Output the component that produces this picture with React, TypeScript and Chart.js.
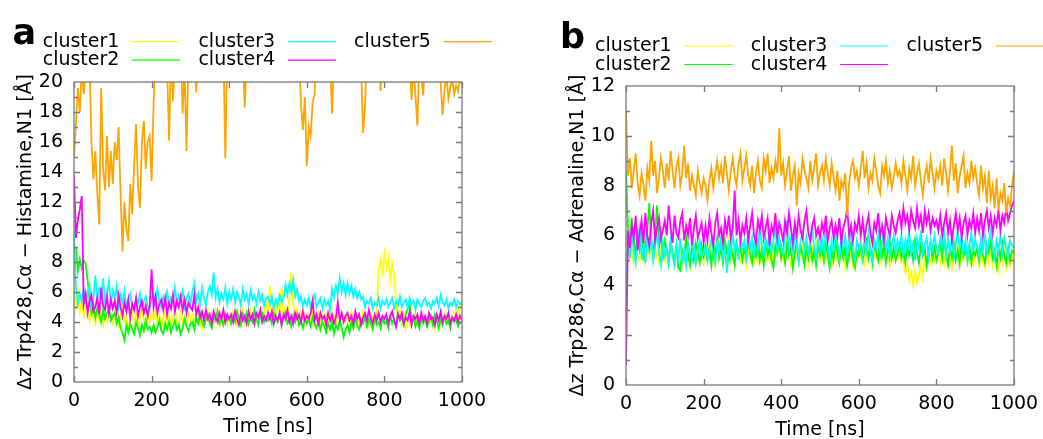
import React, { useEffect, useRef } from "react";
import { Chart, registerables } from "chart.js";
Chart.register(...registerables);

// ---------- data ----------
const TIME = [0,
  5, 10, 15, 20, 25, 30, 35, 40, 45, 50, 55, 60, 65, 70, 75, 80, 85, 90, 95, 100,
  105, 110, 115, 120, 125, 130, 135, 140, 145, 150, 155, 160, 165, 170, 175, 180, 185, 190, 195, 200,
  205, 210, 215, 220, 225, 230, 235, 240, 245, 250, 255, 260, 265, 270, 275, 280, 285, 290, 295, 300,
  305, 310, 315, 320, 325, 330, 335, 340, 345, 350, 355, 360, 365, 370, 375, 380, 385, 390, 395, 400,
  405, 410, 415, 420, 425, 430, 435, 440, 445, 450, 455, 460, 465, 470, 475, 480, 485, 490, 495, 500,
  505, 510, 515, 520, 525, 530, 535, 540, 545, 550, 555, 560, 565, 570, 575, 580, 585, 590, 595, 600,
  605, 610, 615, 620, 625, 630, 635, 640, 645, 650, 655, 660, 665, 670, 675, 680, 685, 690, 695, 700,
  705, 710, 715, 720, 725, 730, 735, 740, 745, 750, 755, 760, 765, 770, 775, 780, 785, 790, 795, 800,
  805, 810, 815, 820, 825, 830, 835, 840, 845, 850, 855, 860, 865, 870, 875, 880, 885, 890, 895, 900,
  905, 910, 915, 920, 925, 930, 935, 940, 945, 950, 955, 960, 965, 970, 975, 980, 985, 990, 995, 1000];

const SERIES_NAMES = ["cluster1", "cluster2", "cluster3", "cluster4", "cluster5"];
const SERIES_COLORS = ["#ffff00", "#00ff00", "#00ffff", "#ff00ff", "#ffa500"];
const X_TICKS = [0, 200, 400, 600, 800, 1000];
const Y_TICKS_A = [0, 2, 4, 6, 8, 10, 12, 14, 16, 18, 20];
const Y_TICKS_B = [0, 2, 4, 6, 8, 10, 12];
const Y_TITLE_A = "\u0394z Trp428,C\u03b1 \u2212 Histamine,N1 [\u00c5]";
const Y_TITLE_B = "\u0394z Trp286,C\u03b1 \u2212 Adrenaline,N1 [\u00c5]";

// ---------- panel a ----------
const A_C1 = [6.2,
  5.0, 6.0, 4.7, 5.5, 4.4, 5.2, 4.8, 4.1, 5.0, 4.4, 3.9, 4.7, 4.2, 4.9, 3.8, 4.5, 4.1, 4.8, 4.3, 3.9,
  4.6, 4.1, 3.7, 4.5, 4.9, 4.0, 4.4, 3.6, 4.2, 4.7, 4.0, 4.5, 3.8, 4.3, 4.9, 4.1, 3.7, 4.4, 4.0, 4.6,
  4.2, 4.8, 3.9, 4.4, 3.6, 4.3, 4.7, 4.0, 4.5, 3.8, 4.2, 4.9, 4.1, 3.7, 4.6, 4.0, 4.4, 3.8, 4.5, 4.1,
  4.5, 3.9, 4.3, 4.8, 4.0, 3.6, 4.5, 4.2, 4.7, 3.9, 4.4, 4.0, 4.8, 4.2, 3.7, 4.5, 4.1, 4.6, 3.9, 4.3,
  4.0, 4.6, 4.2, 3.8, 4.5, 4.1, 4.8, 3.9, 4.4, 4.0, 4.7, 4.2, 3.8, 4.5, 4.3, 4.9, 4.1, 4.6, 5.2, 4.6,
  6.4, 4.5, 5.0, 4.3, 5.4, 4.7, 6.3, 4.4, 5.0, 4.2, 5.6, 7.3, 5.1, 4.4, 4.8, 4.0, 4.6, 4.2, 4.5, 3.9,
  4.5, 4.1, 4.7, 3.8, 4.3, 4.6, 4.0, 4.4, 3.7, 4.5, 4.2, 4.8, 4.0, 4.4, 3.9, 4.6, 4.2, 4.0, 4.5, 4.2,
  4.4, 3.9, 4.6, 4.1, 4.3, 3.7, 4.5, 4.0, 4.7, 4.1, 4.4, 3.8, 4.6, 4.2, 4.0, 4.5, 7.4, 8.2, 7.0, 8.6,
  7.6, 8.3, 6.8, 7.9, 7.2, 5.2, 4.3, 4.7, 3.9, 4.5, 3.6, 4.4, 4.0, 3.7, 4.3, 4.6, 3.8, 4.2, 4.0, 4.5,
  4.1, 3.7, 4.5, 4.0, 4.3, 3.6, 4.4, 4.1, 4.7, 3.9, 4.2, 4.5, 4.0, 3.8, 4.4, 4.2, 4.8, 4.3, 5.1, 5.5];
const A_C2 = [9.0,
  8.9, 7.4, 8.2, 7.6, 8.1, 7.9, 6.8, 5.4, 4.6, 5.2, 4.3, 4.9, 4.5, 4.0, 4.8, 4.2, 4.6, 4.9, 4.1, 4.4,
  4.6, 3.9, 4.3, 3.6, 3.3, 2.8, 3.8, 3.3, 3.9, 3.5, 3.2, 4.0, 3.6, 3.1, 3.8, 3.4, 4.1, 3.5, 3.7, 3.3,
  3.8, 3.3, 3.6, 4.1, 3.4, 3.2, 3.9, 3.5, 4.0, 3.3, 3.7, 4.1, 3.5, 3.8, 3.2, 3.6, 4.2, 3.7, 3.4, 3.9,
  4.0, 3.5, 4.3, 3.9, 4.6, 4.0, 3.7, 4.2, 4.5, 3.9, 3.6, 4.4, 4.1, 4.7, 3.9, 4.2, 3.8, 4.5, 4.1, 4.3,
  3.9, 4.4, 4.0, 4.7, 4.2, 3.8, 4.5, 4.1, 4.6, 3.9, 4.3, 4.0, 4.8, 4.2, 3.8, 4.4, 4.6, 4.0, 4.3, 4.1,
  4.4, 3.9, 4.6, 4.2, 4.0, 4.5, 3.8, 4.3, 4.6, 3.9, 4.2, 3.7, 4.4, 4.0, 4.5, 3.8, 4.1, 3.6, 4.2, 3.9,
  4.2, 3.7, 4.3, 3.9, 3.6, 4.1, 3.5, 4.0, 3.7, 3.3, 3.9, 3.5, 4.0, 3.2, 3.8, 3.5, 4.1, 3.6, 3.0, 3.5,
  3.8, 3.3, 4.0, 3.6, 4.3, 3.8, 3.5, 4.1, 3.9, 4.4, 3.7, 4.2, 3.9, 3.5, 4.3, 3.8, 4.0, 3.6, 4.2, 3.9,
  4.1, 3.6, 4.4, 3.9, 4.2, 3.7, 4.6, 4.1, 4.3, 3.8, 4.5, 4.9, 5.2, 4.2, 4.4, 3.7, 4.1, 3.6, 4.3, 3.9,
  4.2, 3.7, 4.0, 4.4, 3.8, 4.5, 4.1, 3.6, 4.2, 3.8, 4.4, 3.9, 4.1, 3.6, 4.3, 4.0, 4.2, 3.7, 4.0, 3.9];
const A_C3 = [9.9,
  6.3, 5.2, 5.9, 5.4, 6.2, 5.3, 5.9, 6.4, 5.0, 5.6, 7.1, 5.5, 6.2, 5.8, 6.9, 5.3, 5.9, 6.7, 5.2, 6.1,
  5.6, 6.4, 5.0, 5.8, 5.3, 6.1, 4.9, 5.5, 5.9, 5.1, 4.8, 5.6, 5.2, 5.9, 4.9, 5.4, 5.7, 5.1, 4.9, 5.5,
  5.9, 5.1, 6.2, 5.4, 5.0, 5.7, 5.3, 6.0, 5.1, 5.6, 5.3, 6.3, 5.2, 5.8, 5.5, 6.1, 5.0, 5.6, 5.9, 5.2,
  6.0, 6.6, 5.4, 5.9, 5.2, 6.3, 5.6, 5.1, 6.0, 6.4, 5.8, 7.3, 5.6, 6.2, 5.3, 5.9, 5.5, 6.3, 5.2, 6.0,
  5.5, 6.2, 5.3, 6.0, 5.7, 5.1, 6.2, 5.5, 5.9, 5.2, 6.1, 5.5, 5.8, 5.2, 6.0, 5.4, 5.8, 5.1, 5.6, 5.7,
  5.2, 5.7, 4.9, 5.5, 5.1, 5.8, 5.3, 5.6, 6.5, 5.8, 6.6, 6.0, 6.8, 5.7, 6.2, 5.4, 5.7, 5.0, 5.5, 5.1,
  5.6, 5.0, 5.5, 5.8, 5.0, 5.3, 5.6, 4.9, 5.5, 5.1, 5.4, 4.8, 6.2, 5.6, 6.4, 5.9, 6.9, 6.0, 6.6, 5.8,
  6.6, 5.9, 6.4, 5.7, 6.2, 5.6, 6.0, 5.5, 5.7, 5.0, 5.4, 5.2, 5.6, 4.9, 5.3, 5.1, 5.6, 4.9, 5.4, 5.2,
  5.5, 5.0, 5.3, 5.6, 4.9, 5.4, 5.1, 5.7, 5.0, 5.3, 5.5, 4.9, 5.6, 5.2, 5.4, 4.8, 5.5, 5.2, 5.0, 5.4,
  5.6, 5.1, 5.3, 4.9, 5.4, 5.2, 5.6, 5.0, 5.8, 5.3, 5.1, 5.5, 4.9, 5.3, 5.1, 5.5, 5.0, 5.4, 5.2, 5.2];
const A_C4 = [13.8,
  9.6, 10.8, 11.5, 12.4, 5.2, 5.9, 4.6, 5.4, 5.8, 4.7, 5.0, 5.6, 4.5, 6.3, 5.1, 4.8, 5.7, 4.6, 5.5, 4.9,
  5.4, 4.6, 5.8, 5.0, 4.4, 5.3, 4.7, 5.5, 4.3, 5.2, 4.8, 5.6, 4.4, 5.0, 5.4, 4.6, 5.1, 4.4, 5.0, 7.5,
  5.0, 5.7, 4.6, 5.2, 5.5, 4.8, 5.6, 4.5, 5.3, 4.9, 5.8, 4.7, 5.4, 5.0, 5.7, 4.8, 5.5, 4.6, 5.3, 5.0,
  4.8, 5.8, 4.5, 5.0, 4.3, 4.7, 4.1, 4.8, 4.2, 4.5, 3.9, 4.7, 4.3, 4.0, 4.6, 4.2, 4.8, 4.0, 4.5, 4.2,
  4.5, 4.0, 4.7, 4.2, 3.8, 4.6, 4.1, 4.4, 3.9, 4.7, 4.2, 4.5, 3.9, 4.6, 4.3, 4.8, 4.0, 4.4, 4.1, 4.6,
  4.2, 4.7, 3.9, 4.4, 4.1, 4.6, 3.8, 4.5, 4.2, 4.8, 4.0, 4.4, 3.9, 4.6, 4.2, 4.5, 4.0, 4.7, 4.1, 4.4,
  4.2, 4.6, 5.4, 4.1, 4.5, 3.9, 4.6, 4.2, 4.4, 3.8, 4.6, 4.1, 4.5, 3.9, 4.3, 5.3, 4.1, 4.6, 4.0, 4.4,
  4.6, 4.1, 4.4, 3.9, 4.7, 4.2, 4.5, 3.8, 4.3, 4.6, 4.1, 4.8, 4.2, 3.9, 4.5, 4.1, 4.6, 4.0, 4.4, 4.2,
  4.5, 3.9, 4.4, 4.7, 4.1, 3.7, 4.5, 4.2, 4.6, 3.9, 4.3, 4.1, 4.7, 3.8, 4.4, 4.2, 4.5, 3.9, 4.6, 4.1,
  4.4, 3.9, 4.6, 4.2, 4.3, 3.8, 4.5, 4.1, 4.7, 4.0, 4.4, 4.2, 4.6, 3.9, 4.3, 4.1, 4.5, 4.0, 4.4, 4.1];
const A_C5 = [15.0,
  17.2, 19.6, 18.0, 21.0, 19.2, 20.5, 21.0, 21.5, 16.0, 13.5, 15.4, 12.6, 10.5, 19.6, 14.2, 12.8, 16.4, 13.0, 15.4, 13.2,
  16.0, 14.8, 17.0, 12.6, 8.7, 12.0, 10.2, 9.4, 13.2, 11.2, 14.5, 17.2, 13.0, 11.6, 16.0, 17.4, 14.2, 16.0, 16.4, 13.4,
  18.5, 21.5, 22.0, 21.0, 22.5, 21.8, 22.2, 21.0, 16.1, 22.0, 18.7, 21.5, 22.0, 21.3, 22.4, 17.9, 21.0, 15.4, 21.6, 22.0,
  21.5, 22.8, 19.3, 22.0, 21.2, 23.0, 22.0, 21.5, 22.5, 21.4, 22.6, 21.8, 22.3, 21.2, 22.0, 21.6, 22.4, 14.9, 21.8, 22.0,
  21.8, 23.0, 22.2, 21.4, 22.6, 21.5, 22.0, 18.3, 21.6, 22.4, 21.2, 22.8, 21.6, 22.3, 21.0, 22.5, 21.7, 22.2, 21.4, 22.0,
  21.5, 22.8, 21.6, 22.4, 21.0, 22.8, 21.4, 22.4, 21.2, 22.6, 21.5, 22.0, 21.3, 22.5, 21.0, 22.2, 18.5, 16.8, 19.0, 14.4,
  17.0, 16.4, 18.6, 19.2, 22.5, 21.4, 22.8, 21.5, 22.2, 21.0, 22.4, 21.2, 17.9, 21.6, 22.8, 21.2, 22.4, 21.6, 22.0, 21.2,
  22.5, 21.5, 22.8, 21.4, 22.0, 21.6, 22.4, 21.0, 16.6, 18.4, 22.0, 21.6, 22.5, 21.3, 22.2, 21.8, 22.6, 19.4, 21.2, 22.2,
  21.5, 22.6, 21.4, 22.8, 21.6, 22.4, 21.0, 22.2, 21.5, 22.6, 21.3, 22.0, 21.6, 18.8, 21.0, 19.1, 17.1, 21.5, 20.4, 19.1,
  21.8, 22.4, 21.2, 22.0, 21.5, 22.4, 21.2, 20.6, 19.9, 17.8, 19.5, 20.4, 18.9, 19.7, 20.2, 19.2, 19.8, 19.4, 20.3, 19.8];

// ---------- panel b ----------
const B_C1 = [5.6,
  5.8, 5.1, 5.5, 4.9, 5.7, 5.2, 5.0, 5.6, 5.3, 4.9, 5.8, 5.2, 5.5, 5.0, 5.6, 5.1, 4.9, 5.5, 5.3, 5.0,
  5.4, 4.9, 5.7, 5.2, 4.8, 5.5, 5.1, 5.6, 4.9, 5.3, 5.0, 5.5, 4.8, 5.4, 5.2, 4.9, 5.6, 5.1, 5.3, 4.9,
  5.5, 5.1, 5.7, 5.0, 5.3, 4.8, 5.6, 5.2, 5.4, 4.9, 5.5, 5.1, 5.8, 5.0, 5.4, 4.9, 5.6, 5.2, 5.0, 5.5,
  5.2, 4.8, 5.5, 5.1, 5.6, 4.9, 5.3, 5.0, 5.5, 4.8, 5.7, 5.2, 5.0, 5.4, 4.9, 5.6, 5.1, 5.3, 5.5, 5.0,
  5.3, 4.9, 5.6, 5.1, 4.8, 5.4, 5.0, 5.5, 4.9, 5.3, 5.6, 5.0, 5.4, 4.8, 5.2, 5.5, 5.1, 5.7, 5.2, 5.0,
  5.4, 4.9, 5.3, 5.0, 5.6, 4.8, 5.2, 5.5, 4.9, 5.3, 5.1, 5.6, 4.7, 5.2, 5.0, 5.5, 4.8, 5.3, 5.0, 5.4,
  5.1, 5.5, 4.9, 5.4, 5.0, 5.6, 4.8, 5.3, 5.1, 5.5, 4.9, 5.2, 5.6, 5.0, 5.4, 4.8, 5.3, 5.0, 5.5, 5.1,
  5.3, 4.9, 5.0, 4.5, 4.8, 4.2, 4.5, 4.0, 4.6, 4.1, 4.4, 4.8, 4.3, 5.0, 4.7, 5.3, 4.9, 5.4, 5.0, 5.3,
  5.5, 4.9, 5.2, 4.8, 5.5, 5.0, 5.4, 4.7, 5.3, 5.1, 5.6, 4.8, 5.2, 5.0, 5.5, 4.9, 5.3, 5.1, 4.8, 5.2,
  5.4, 4.8, 5.3, 5.0, 4.7, 5.3, 4.9, 5.5, 4.8, 5.2, 5.0, 4.6, 5.3, 4.9, 5.4, 4.7, 5.1, 4.8, 5.2, 4.8];
const B_C2 = [8.6,
  6.4, 5.6, 6.7, 5.8, 5.2, 6.1, 5.5, 6.3, 5.0, 5.7, 6.2, 7.3, 5.8, 5.3, 6.0, 7.2, 5.5, 6.1, 5.2, 5.8,
  5.4, 4.9, 5.8, 5.3, 5.0, 5.6, 4.7, 4.6, 5.4, 5.1, 5.9, 5.2, 4.8, 5.5, 5.0, 5.7, 5.3, 4.9, 5.6, 5.2,
  5.6, 5.0, 5.4, 4.8, 5.7, 5.2, 5.9, 5.1, 5.5, 4.9, 5.8, 5.3, 5.0, 5.6, 5.2, 4.8, 5.7, 5.3, 5.5, 5.0,
  5.5, 5.1, 5.8, 5.3, 4.9, 5.6, 5.2, 5.9, 5.0, 5.4, 4.8, 5.7, 5.2, 5.5, 5.0, 4.7, 5.6, 5.3, 5.8, 5.1,
  5.4, 4.9, 5.7, 5.2, 5.5, 4.7, 5.3, 5.8, 5.0, 5.6, 5.2, 4.8, 5.5, 5.1, 5.7, 5.0, 5.4, 4.8, 5.6, 5.2,
  5.5, 5.0, 5.7, 5.2, 4.7, 5.4, 5.0, 5.8, 5.3, 4.9, 5.6, 5.1, 5.5, 4.8, 5.3, 5.7, 5.0, 4.7, 5.4, 5.2,
  5.6, 5.0, 5.4, 5.8, 5.1, 5.5, 4.9, 5.7, 5.3, 5.0, 6.0, 5.2, 5.6, 4.9, 5.4, 5.8, 5.1, 5.5, 5.0, 5.3,
  5.6, 5.1, 5.4, 4.9, 5.7, 5.2, 5.5, 5.0, 5.8, 5.3, 4.9, 5.6, 5.2, 5.5, 4.8, 5.4, 5.7, 5.1, 5.5, 5.0,
  5.3, 5.7, 5.1, 5.9, 5.2, 4.8, 5.5, 5.1, 5.7, 5.0, 5.4, 4.9, 5.8, 5.2, 5.5, 5.0, 5.6, 4.9, 5.4, 5.2,
  5.5, 5.0, 5.7, 5.2, 4.9, 5.6, 5.3, 5.8, 5.1, 5.4, 4.8, 5.5, 5.1, 5.7, 5.2, 4.9, 5.5, 5.0, 5.4, 5.3];
const B_C3 = [3.0,
  5.9, 5.1, 6.1, 5.4, 4.9, 5.8, 6.3, 5.2, 5.6, 4.9, 5.9, 5.4, 6.0, 5.0, 5.5, 6.2, 5.3, 4.8, 5.7, 5.2,
  5.5, 4.9, 5.8, 5.2, 4.8, 5.6, 5.1, 5.9, 5.0, 5.4, 4.8, 5.7, 5.3, 5.0, 5.6, 4.9, 5.4, 5.8, 5.1, 5.3,
  5.6, 5.0, 5.4, 5.9, 5.2, 4.9, 5.7, 5.3, 6.0, 5.1, 5.5, 4.5, 5.8, 5.2, 6.1, 5.4, 5.7, 5.0, 5.9, 5.5,
  5.8, 5.2, 6.2, 5.5, 5.9, 5.1, 6.0, 5.4, 6.4, 5.6, 5.2, 5.9, 5.5, 6.1, 5.3, 5.8, 6.3, 5.4, 5.9, 5.6,
  5.3, 6.0, 6.6, 5.5, 5.9, 5.2, 6.2, 5.6, 5.0, 5.8, 6.1, 5.4, 5.9, 5.3, 5.7, 6.3, 5.5, 5.1, 5.8, 5.4,
  5.9, 5.3, 6.1, 5.6, 5.0, 5.8, 5.4, 6.2, 5.7, 5.1, 5.9, 5.5, 6.0, 5.2, 5.7, 6.3, 5.4, 5.0, 5.8, 5.5,
  5.7, 5.1, 5.9, 5.4, 6.1, 5.3, 5.0, 5.8, 5.5, 6.0, 5.2, 5.7, 6.2, 5.4, 5.9, 5.1, 5.6, 6.0, 5.3, 5.8,
  5.5, 6.0, 5.2, 5.8, 5.4, 6.1, 5.3, 5.7, 5.0, 5.9, 5.5, 6.2, 5.3, 5.6, 5.9, 5.1, 5.8, 5.4, 6.0, 5.5,
  5.3, 5.9, 5.6, 6.1, 5.2, 5.8, 5.4, 6.0, 5.1, 5.7, 6.2, 5.5, 5.9, 5.3, 5.8, 5.0, 5.6, 6.1, 5.4, 5.8,
  5.6, 5.2, 5.9, 5.4, 6.0, 5.3, 5.7, 6.2, 5.5, 5.1, 5.8, 5.4, 6.0, 5.3, 5.9, 5.5, 5.2, 5.8, 5.6, 5.5];
const B_C4 = [0.8,
  6.2, 5.5, 6.4, 5.9, 6.8, 5.4, 6.1, 6.6, 5.7, 6.9, 6.0, 5.6, 6.5, 7.0, 5.8, 6.3, 6.7, 5.9, 6.2, 6.6,
  6.0, 7.2, 6.3, 5.7, 6.8, 6.1, 5.9, 6.6, 6.9, 5.8, 6.4, 6.0, 6.7, 5.6, 6.3, 6.8, 5.9, 6.2, 6.5, 5.7,
  6.4, 5.8, 6.7, 6.1, 5.6, 6.5, 6.9, 6.0, 6.3, 5.7, 6.6, 6.1, 6.8, 5.9, 6.3, 7.8, 6.0, 6.6, 5.8, 6.4,
  6.1, 6.7, 5.8, 6.4, 6.9, 6.0, 5.7, 6.6, 6.2, 6.8, 5.9, 6.3, 6.7, 5.6, 6.4, 6.1, 6.9, 5.9, 6.5, 6.2,
  5.8, 6.6, 6.1, 6.9, 6.3, 5.7, 6.5, 6.0, 6.8, 6.2, 5.9, 6.6, 7.0, 6.1, 5.8, 6.4, 6.7, 6.0, 6.3, 5.9,
  6.5, 6.1, 6.8, 5.8, 6.3, 6.6, 5.9, 6.4, 6.0, 6.7, 5.7, 6.3, 6.6, 7.1, 6.0, 6.4, 5.8, 6.5, 6.2, 6.8,
  6.0, 6.6, 5.9, 6.4, 6.8, 6.1, 5.7, 6.5, 6.2, 6.9, 6.0, 6.4, 5.8, 6.7, 6.3, 6.0, 6.8, 6.4, 6.1, 6.6,
  6.9, 6.3, 7.1, 6.5, 6.8, 6.2, 7.0, 6.6, 6.3, 7.1, 6.4, 6.8, 6.1, 7.0, 6.5, 6.9, 6.2, 6.7, 6.4, 6.6,
  6.2, 6.8, 6.0, 6.5, 6.9, 6.1, 6.6, 5.8, 6.4, 6.9, 6.2, 6.7, 5.9, 6.5, 6.8, 6.0, 6.6, 6.3, 6.9, 6.1,
  6.7, 6.2, 6.9, 6.0, 6.6, 7.0, 6.3, 6.8, 6.1, 6.7, 6.4, 7.0, 6.2, 6.8, 6.5, 7.1, 6.6, 6.9, 7.2, 7.4];
const B_C5 = [11.0,
  8.4, 9.1, 7.9, 8.6, 9.3, 8.1, 7.6, 8.5, 8.0, 7.4, 8.7, 8.2, 9.8, 8.4, 9.0, 7.7, 8.3, 9.1, 8.6, 7.9,
  8.9, 8.2, 9.4, 8.6, 7.9, 8.8, 9.1, 8.0, 8.5, 9.6, 8.3, 8.9, 7.8, 8.4, 8.0, 7.6, 8.6, 8.1, 7.7, 8.3,
  8.0, 7.4, 8.2, 8.7, 7.9, 8.5, 9.0, 8.3, 8.8, 8.1, 9.2, 8.5, 7.8, 8.6, 9.1, 8.4, 8.0, 8.9, 9.3, 8.2,
  8.7, 9.2, 8.4, 8.0, 8.8, 7.7, 8.5, 9.0, 8.2, 7.9, 9.1, 8.6, 9.3, 8.1, 8.7, 8.3, 9.0, 8.5, 10.3, 8.4,
  8.9, 8.0, 8.6, 9.2, 7.8, 8.4, 8.8, 7.2, 8.5, 8.1, 9.1, 8.6, 8.3, 7.9, 9.0, 8.2, 8.7, 9.3, 8.0, 8.5,
  8.8, 8.2, 9.1, 8.5, 8.0, 8.9, 8.3, 7.8, 8.6, 7.4, 8.2, 7.9, 8.5, 6.8, 8.1, 8.7, 9.0, 8.3, 8.6, 8.0,
  8.7, 9.4, 8.3, 8.9, 7.9, 8.5, 8.2, 9.1, 8.6, 8.0, 7.7, 8.8, 8.4, 9.0, 8.1, 8.6, 7.9, 8.3, 8.9, 8.4,
  8.6, 8.1, 9.0, 8.4, 7.8, 8.7, 8.3, 9.2, 8.0, 8.5, 8.9, 8.2, 7.6, 8.4, 8.8, 8.1, 9.1, 8.5, 7.9, 8.6,
  8.3, 8.8, 8.0, 9.1, 8.5, 7.8, 8.6, 9.6, 8.2, 8.9, 7.7, 8.4, 8.8, 9.2, 7.9, 8.5, 8.1, 9.0, 8.3, 8.7,
  8.1, 7.6, 8.8, 7.9, 8.4, 7.3, 8.6, 7.5, 8.0, 7.1, 8.3, 7.0, 7.7, 7.4, 8.1, 6.9, 7.5, 7.2, 8.0, 8.6];

const FONT = '"DejaVu Sans", sans-serif';

type Spec = {
  letter: string;
  letterX: number;
  letterY: number;
  legendX: number;
  legendY: number;
  yTitle: string;
  yMax: number;
  yTicks: number[];
  series: number[][];
  width: number;
  height: number;
  padding: { left: number; right: number; top: number; bottom: number };
};

function makeDecor(spec: Spec) {
  return {
    id: "decor",
    afterDraw(chart: any) {
      const ctx: CanvasRenderingContext2D = chart.ctx;
      const { left, right, top, bottom } = chart.chartArea;
      const xs = chart.scales.x;
      const ys = chart.scales.y;
      ctx.save();
      ctx.strokeStyle = "#7a7a7a";
      ctx.lineWidth = 1.3;
      ctx.strokeRect(left, top, right - left, bottom - top);
      ctx.beginPath();
      X_TICKS.forEach((v) => {
        const px = Math.round(xs.getPixelForValue(v)) + 0.5;
        ctx.moveTo(px, bottom);
        ctx.lineTo(px, bottom - 6);
        ctx.moveTo(px, top);
        ctx.lineTo(px, top + 6);
      });
      for (let v = 1; v < spec.yMax; v++) {
        const py = Math.round(ys.getPixelForValue(v)) + 0.5;
        const len = v % 2 === 0 ? 6 : 4;
        ctx.moveTo(left, py);
        ctx.lineTo(left + len, py);
        ctx.moveTo(right, py);
        ctx.lineTo(right - len, py);
      }
      ctx.stroke();

      ctx.fillStyle = "#000";
      ctx.font = `19px ${FONT}`;
      ctx.textAlign = "center";
      ctx.textBaseline = "alphabetic";
      X_TICKS.forEach((v) => ctx.fillText(String(v), xs.getPixelForValue(v), bottom + 24));
      ctx.textAlign = "right";
      ctx.textBaseline = "middle";
      spec.yTicks.forEach((v) => ctx.fillText(String(v), left - 11, ys.getPixelForValue(v)));

      ctx.textAlign = "center";
      ctx.textBaseline = "alphabetic";
      ctx.fillText("Time [ns]", (left + right) / 2, bottom + 50);
      ctx.save();
      ctx.translate(left - 43.5, (top + bottom) / 2);
      ctx.rotate(-Math.PI / 2);
      ctx.fillText(spec.yTitle, 0, 0);
      ctx.restore();

      ctx.font = `bold 35px ${FONT}`;
      ctx.textAlign = "left";
      ctx.fillText(spec.letter, spec.letterX, spec.letterY);

      ctx.font = `19px ${FONT}`;
      ctx.lineWidth = 1.2;
      SERIES_NAMES.forEach((name, i) => {
        const col = Math.floor(i / 2);
        const row = i % 2;
        const tx = spec.legendX + col * 155.7;
        const ty = spec.legendY + row * 18.5;
        ctx.fillStyle = "#000";
        ctx.fillText(name, tx, ty);
        ctx.strokeStyle = SERIES_COLORS[i];
        ctx.beginPath();
        ctx.moveTo(tx + 89.5, ty - 5);
        ctx.lineTo(tx + 137.5, ty - 5);
        ctx.stroke();
      });
      ctx.restore();
    },
  };
}

function Panel({ spec, left }: { spec: Spec; left: number }) {
  const ref = useRef<HTMLCanvasElement | null>(null);
  useEffect(() => {
    if (!ref.current) return;
    const chart = new Chart(ref.current, {
      type: "line",
      data: {
        datasets: spec.series.map((vals, i) => ({
          label: SERIES_NAMES[i],
          data: TIME.map((t, k) => ({ x: t, y: vals[k] })),
          borderColor: SERIES_COLORS[i],
          backgroundColor: SERIES_COLORS[i],
          borderWidth: 1.8,
          pointRadius: 0,
          tension: 0,
          fill: false,
          clip: 0,
          order: 5 - i,
        })),
      },
      options: {
        animation: false,
        responsive: false,
        maintainAspectRatio: false,
        events: [],
        layout: { padding: spec.padding },
        plugins: { legend: { display: false }, tooltip: { enabled: false }, title: { display: false } },
        scales: {
          x: { type: "linear", min: 0, max: 1000, display: false },
          y: { type: "linear", min: 0, max: spec.yMax, display: false },
        },
      },
      plugins: [makeDecor(spec)],
    } as any);
    return () => chart.destroy();
  }, [spec]);
  return (
    <canvas
      ref={ref}
      width={spec.width}
      height={spec.height}
      style={{ position: "absolute", left, top: 0, width: spec.width, height: spec.height }}
    />
  );
}

const SPEC_A: Spec = {
  letter: "a",
  letterX: 12.5,
  letterY: 44,
  legendX: 42.7,
  legendY: 46.7,
  yTitle: Y_TITLE_A,
  yMax: 20,
  yTicks: Y_TICKS_A,
  series: [A_C1, A_C2, A_C3, A_C4, A_C5],
  width: 520,
  height: 439,
  padding: { left: 74, right: 58, top: 82, bottom: 57 },
};

const SPEC_B: Spec = {
  letter: "b",
  letterX: 40,
  letterY: 48.3,
  legendX: 75,
  legendY: 51,
  yTitle: Y_TITLE_B,
  yMax: 12,
  yTicks: Y_TICKS_B,
  series: [B_C1, B_C2, B_C3, B_C4, B_C5],
  width: 523,
  height: 439,
  padding: { left: 106, right: 29, top: 86, bottom: 54 },
};

export default function App() {
  return (
    <div style={{ position: "absolute", left: 0, top: 0, width: 1043, height: 439, background: "#fff", overflow: "hidden" }}>
      <Panel spec={SPEC_A} left={0} />
      <Panel spec={SPEC_B} left={520} />
    </div>
  );
}
